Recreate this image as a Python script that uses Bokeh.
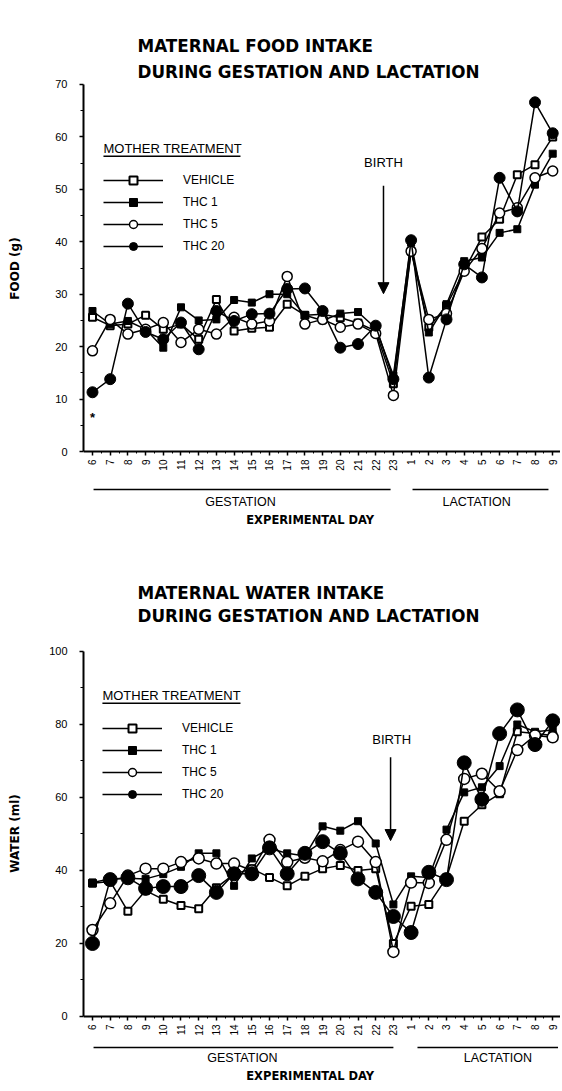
import math
from bokeh.plotting import figure
from bokeh.layouts import column
from bokeh.models import (Range1d, FixedTicker, Label, Legend, LegendItem,
                          BoxAnnotation, Arrow, NormalHead)
from bokeh.embed import file_html
from bokeh.resources import INLINE

# ---------------- data ----------------
gestation_days = ["6", "7", "8", "9", "10", "11", "12", "13", "14", "15", "16",
                  "17", "18", "19", "20", "21", "22", "23"]
lactation_days = ["1", "2", "3", "4", "5", "6", "7", "8", "9"]
day_labels = gestation_days + lactation_days
x_idx = list(range(len(day_labels)))

series_names = ["VEHICLE", "THC 1", "THC 5", "THC 20"]

food_vehicle = [25.6, 24.0, 24.3, 26.0, 23.3, 24.3, 21.4, 29.0, 23.0, 23.5, 23.7, 28.1,
                26.0, 26.2, 25.5, 24.5, 23.0, 12.9,
                38.2, 23.7, 27.8, 34.5, 40.9, 44.3, 52.8, 54.7, 60.0]
food_thc1 = [26.8, 24.3, 24.9, 23.3, 19.8, 27.5, 25.0, 25.2, 28.9, 28.4, 30.0, 30.0,
             26.0, 25.0, 26.3, 26.6, 23.5, 14.5,
             39.8, 22.7, 28.1, 36.3, 37.0, 41.7, 42.4, 50.9, 56.8]
food_thc5 = [19.2, 25.2, 22.4, 23.3, 24.6, 20.8, 23.3, 22.4, 25.6, 24.3, 24.9, 33.4,
             24.3, 25.2, 23.7, 24.3, 22.5, 10.7,
             38.2, 25.2, 26.3, 34.4, 38.7, 45.5, 46.5, 52.2, 53.5]
food_thc20 = [11.3, 13.8, 28.2, 22.8, 21.4, 24.6, 19.5, 26.8, 24.9, 26.2, 26.3, 31.0,
              31.1, 26.8, 19.8, 20.5, 24.0, 13.8,
              40.3, 14.1, 25.2, 35.7, 33.2, 52.2, 45.8, 66.6, 60.7]

water_vehicle = [36.5, 37.0, 28.8, 34.5, 32.1, 30.4, 29.5, 35.3, 39.0, 40.5, 38.1, 35.8,
                 38.4, 40.5, 41.4, 40.0, 40.5, 20.0,
                 30.2, 30.7, 38.0, 53.5, 58.0, 61.0, 78.0, 77.5, 77.0]
water_thc1 = [36.7, 37.7, 37.9, 37.7, 39.0, 41.0, 44.7, 44.7, 35.8, 43.3, 46.0, 44.7,
              44.0, 52.1, 50.9, 53.5, 47.4, 30.7,
              38.4, 38.1, 51.2, 61.4, 62.8, 68.6, 80.0, 78.0, 78.5]
water_thc5 = [23.7, 31.0, 38.6, 40.5, 40.5, 42.3, 43.3, 41.9, 41.9, 40.0, 48.4, 42.3,
              43.5, 42.5, 45.6, 47.9, 42.3, 17.7,
              36.7, 36.6, 48.4, 65.1, 66.5, 61.7, 73.0, 77.0, 76.5]
water_thc20 = [20.0, 37.5, 38.0, 35.1, 35.6, 35.6, 38.6, 34.0, 39.1, 39.1, 46.2, 39.1,
               44.7, 47.9, 44.7, 37.7, 34.0, 27.4,
               23.0, 39.5, 37.5, 69.5, 59.5, 77.5, 84.0, 74.5, 81.0]

food_ticks = [0, 10, 20, 30, 40, 50, 60, 70]
food_minor = [5, 15, 25, 35, 45, 55, 65]
water_ticks = [0, 20, 40, 60, 80, 100]
water_minor = [10, 30, 50, 70, 90]

# ---------------- styling ----------------
FONT = "Liberation Sans"
BOLD = "DejaVu Sans"


def add_label(p, text, x, y, size, bold=False, font=FONT, align="left"):
    p.add_layout(Label(x=x, y=y, text=text, text_font=font, text_font_size=size,
                       text_font_style="bold" if bold else "normal",
                       text_align=align, text_baseline="middle", text_color="black"))


def add_hline(p, x0, x1, y, width=1.5):
    p.add_layout(Arrow(end=None, start=None, x_start=x0, y_start=y, x_end=x1, y_end=y,
                       line_color="black", line_width=width))


def build(values, yr, ticks, minor, ylabel, ylabel_standoff, height, border_top,
          border_bottom, circ_big, circ_open, sq):
    p = figure(width=560, height=height, output_backend="svg", toolbar_location=None,
               x_range=Range1d(-0.508, 26.44), y_range=Range1d(*yr),
               min_border_left=83, min_border_right=0, min_border_top=border_top,
               min_border_bottom=border_bottom)
    p.grid.visible = False
    p.outline_line_color = None
    p.background_fill_color = "white"
    p.border_fill_color = "white"

    # x axis, pinned at y = 0
    xa = p.xaxis[0]
    xa.fixed_location = 0
    xa.ticker = FixedTicker(ticks=x_idx, minor_ticks=[i + 0.5 for i in x_idx[:-1]])
    xa.major_label_overrides = {i: lab for i, lab in zip(x_idx, day_labels)}
    xa.major_label_orientation = math.pi / 2
    xa.major_label_text_font = FONT
    xa.major_label_text_font_size = "10px"
    xa.major_label_text_color = "black"
    xa.major_label_standoff = 4
    xa.axis_line_width = 2
    xa.axis_line_color = "black"
    xa.major_tick_line_color = "black"
    xa.minor_tick_line_color = "black"
    xa.major_tick_line_width = 1.5
    xa.minor_tick_line_width = 1
    xa.major_tick_out = 4
    xa.major_tick_in = 0
    xa.minor_tick_out = 2
    xa.minor_tick_in = 0

    # y axis
    ya = p.yaxis[0]
    ya.bounds = (ticks[0], ticks[-1])
    ya.ticker = FixedTicker(ticks=ticks, minor_ticks=minor)
    ya.major_label_text_font = FONT
    ya.major_label_text_font_size = "11px"
    ya.major_label_text_color = "black"
    ya.major_label_standoff = 12
    ya.axis_line_width = 2
    ya.axis_line_color = "black"
    ya.major_tick_line_color = "black"
    ya.minor_tick_line_color = "black"
    ya.major_tick_line_width = 1.5
    ya.minor_tick_line_width = 1
    ya.major_tick_out = 4
    ya.major_tick_in = 0
    ya.minor_tick_out = 3
    ya.minor_tick_in = 0
    ya.axis_label = ylabel
    ya.axis_label_text_font = BOLD
    ya.axis_label_text_font_style = "bold"
    ya.axis_label_text_font_size = "12px"
    ya.axis_label_text_color = "black"
    ya.axis_label_standoff = ylabel_standoff

    specs = [
        dict(marker="square", size=sq, fill="white", lw=2),
        dict(marker="square", size=sq, fill="black", lw=1),
        dict(marker="circle", size=circ_open, fill="white", lw=1.5),
        dict(marker="circle", size=circ_big, fill="black", lw=1),
    ]
    items = []
    for name, vals, s in zip(series_names, values, specs):
        lr = p.line(x_idx, vals, line_color="black", line_width=1.5)
        sr = p.scatter(x_idx, vals, marker=s["marker"], size=s["size"],
                       fill_color=s["fill"], line_color="black", line_width=s["lw"])
        items.append(LegendItem(label=name, renderers=[lr, sr]))
    return p, items


def finish_legend(p, items, loc):
    leg = Legend(items=items, location=loc, glyph_width=60, glyph_height=20,
                 label_height=20, spacing=2, padding=0, margin=0, label_standoff=20,
                 label_text_font=FONT, label_text_font_size="12px",
                 label_text_color="black",
                 background_fill_alpha=0, border_line_alpha=0)
    p.add_layout(leg)


TITLE_SIZE = "16.8px"

# ---------------- top chart: food ----------------
p1, items1 = build([food_vehicle, food_thc1, food_thc5, food_thc20], (-16.21, 86.02),
                   food_ticks, food_minor, "FOOD (g)", 30, 540, 0, 4, 11, 10, 7)
add_label(p1, "MATERNAL FOOD INTAKE", 2.54, 77.4, TITLE_SIZE, bold=True, font=BOLD)
add_label(p1, "DURING GESTATION AND LACTATION", 2.54, 72.3, TITLE_SIZE, bold=True, font=BOLD)
add_label(p1, "MOTHER TREATMENT", 0.62, 57.8, "13px")
p1.add_layout(BoxAnnotation(left=0.62, right=8.36, bottom=56.15, top=56.45,
                            fill_color="black", fill_alpha=1, line_alpha=0))
finish_legend(p1, items1, (20, 280))
add_label(p1, "BIRTH", 16.44, 55.1, "13px", align="center")
p1.add_layout(Arrow(end=NormalHead(size=11, fill_color="black", line_color="black"),
                    x_start=16.44, y_start=50.7, x_end=16.44, y_end=30.1,
                    line_color="black", line_width=1.5))
add_label(p1, "*", 0.0, 6.4, "13px", bold=True, align="center")
add_hline(p1, 0.06, 16.84, -7.25)
add_hline(p1, 18.08, 25.76, -7.25)
add_label(p1, "GESTATION", 8.36, -9.54, "12.5px", align="center")
add_label(p1, "LACTATION", 21.7, -9.54, "12.5px", align="center")
add_label(p1, "EXPERIMENTAL DAY", 12.3, -12.97, "11.5px", bold=True, font=BOLD, align="center")

# ---------------- bottom chart: water ----------------
p2, items2 = build([water_vehicle, water_thc1, water_thc5, water_thc20], (-20.55, 120.82),
                   water_ticks, water_minor, "WATER (ml)", 24, 551, 35, 0, 14, 11, 7)
add_label(p2, "MATERNAL WATER INTAKE", 2.54, 115.9, TITLE_SIZE, bold=True, font=BOLD)
add_label(p2, "DURING GESTATION AND LACTATION", 2.54, 109.6, TITLE_SIZE, bold=True, font=BOLD)
add_label(p2, "MOTHER TREATMENT", 0.56, 87.9, "13px")
p2.add_layout(BoxAnnotation(left=0.56, right=8.36, bottom=85.6, top=86.0,
                            fill_color="black", fill_alpha=1, line_alpha=0))
finish_legend(p2, items2, (19, 287))
add_label(p2, "BIRTH", 16.9, 75.9, "13px", align="center")
p2.add_layout(Arrow(end=NormalHead(size=11, fill_color="black", line_color="black"),
                    x_start=16.84, y_start=71.0, x_end=16.84, y_end=48.2,
                    line_color="black", line_width=1.5))
add_hline(p2, 0.06, 17.0, -8.5)
add_hline(p2, 18.36, 26.3, -8.5)
add_label(p2, "GESTATION", 8.47, -11.5, "12.5px", align="center")
add_label(p2, "LACTATION", 22.9, -11.5, "12.5px", align="center")
add_label(p2, "EXPERIMENTAL DAY", 12.3, -16.2, "11.5px", bold=True, font=BOLD, align="center")

layout = column(p1, p2, spacing=0)
open("out.html", "w").write(file_html(layout, INLINE))
